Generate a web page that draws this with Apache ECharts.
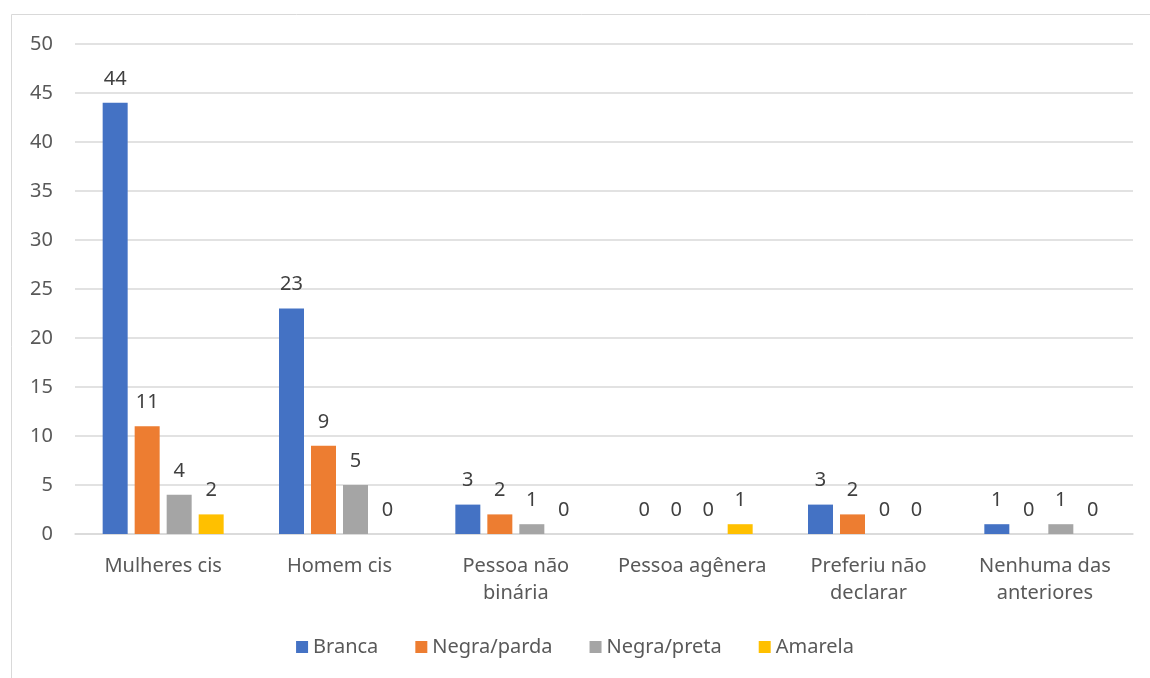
<!DOCTYPE html>
<html>
<head>
<meta charset="utf-8">
<script src="https://cdn.jsdelivr.net/npm/echarts@6/dist/echarts.min.js"></script>
<style>
  html, body { margin: 0; padding: 0; background: #fff; }
  #main { width: 1150px; height: 678px; }
</style>
</head>
<body>
<div id="main"></div>
<script>
var categories = ['Mulheres cis', 'Homem cis', 'Pessoa não\nbinária', 'Pessoa agênera', 'Preferiu não\ndeclarar', 'Nenhuma das\nanteriores'];
var branca = [44, 23, 3, 0, 3, 1];
var negraParda = [11, 9, 2, 0, 2, 0];
var negraPreta = [4, 5, 1, 0, 0, 1];
var amarela = [2, 0, 0, 1, 0, 0];
var yTicks = { min: 0, max: 50, interval: 5 };

var font = 'Noto Sans';
var textColor = '#595959';

function makeSeries(name, data, color) {
  return {
    name: name,
    type: 'bar',
    data: data,
    barWidth: 25,
    barGap: '28%',
    itemStyle: { color: color },
    label: {
      show: true,
      position: 'top',
      distance: 14,
      color: '#404040',
      fontSize: 20,
      fontFamily: font
    }
  };
}

var chart = echarts.init(document.getElementById('main'));
chart.setOption({
  animation: false,
  textStyle: { fontFamily: font },
  graphic: [{
    type: 'rect',
    shape: { x: 11.5, y: 14.5, width: 1150, height: 700 },
    style: { fill: 'none', stroke: '#d9d9d9', lineWidth: 1 },
    silent: true
  }],
  grid: { left: 75, right: 17, top: 44, bottom: 144, containLabel: false },
  legend: {
    bottom: 16,
    left: 'center',
    itemWidth: 12,
    itemHeight: 12,
    itemGap: 37,
    icon: 'rect',
    textStyle: { color: textColor, fontSize: 20, fontFamily: font },
    data: ['Branca', 'Negra/parda', 'Negra/preta', 'Amarela']
  },
  xAxis: {
    type: 'category',
    data: categories,
    axisLine: { lineStyle: { color: '#d9d9d9', width: 1.5 } },
    axisTick: { show: false },
    axisLabel: {
      color: textColor,
      fontSize: 20,
      fontFamily: font,
      margin: 19,
      lineHeight: 27,
      interval: 0
    }
  },
  yAxis: {
    type: 'value',
    min: yTicks.min,
    max: yTicks.max,
    interval: yTicks.interval,
    axisLine: { show: false },
    axisTick: { show: false },
    splitLine: { lineStyle: { color: '#d9d9d9', width: 1.5 } },
    axisLabel: {
      color: textColor,
      fontSize: 20,
      fontFamily: font,
      margin: 22
    }
  },
  series: [
    makeSeries('Branca', branca, '#4472c4'),
    makeSeries('Negra/parda', negraParda, '#ed7d31'),
    makeSeries('Negra/preta', negraPreta, '#a5a5a5'),
    makeSeries('Amarela', amarela, '#ffc000')
  ]
});
</script>
</body>
</html>
